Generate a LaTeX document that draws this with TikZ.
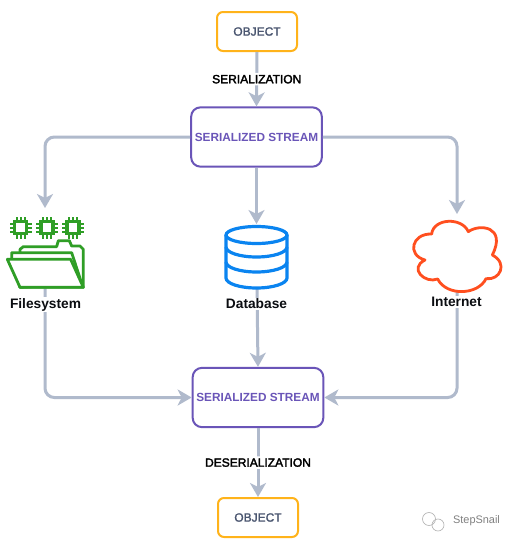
\documentclass[tikz,border=0pt]{standalone}
\usepackage{fontspec}
\setmainfont{Liberation Sans}
\newfontface\semil[FakeBold=2.5]{Liberation Sans}
\newfontface\semio[FakeBold=1.5]{Liberation Sans}
\usetikzlibrary{arrows.meta}
\definecolor{conn}{HTML}{B0BACC}
\definecolor{amberc}{HTML}{FFB31A}
\definecolor{purp}{HTML}{6A55B8}
\definecolor{slatec}{HTML}{4A5670}
\definecolor{greenc}{HTML}{2F9E26}
\definecolor{bluec}{HTML}{0A84F0}
\definecolor{redc}{HTML}{FF4F1F}
\tikzset{
  x=0.75pt,y=-0.75pt,
  objbox/.style={draw=amberc,line width=1.5pt,rounded corners=4.5pt,minimum width=60pt,minimum height=29.25pt,inner sep=0pt,text=slatec,font=\semio\fontsize{9}{11}\selectfont},
  streambox/.style={draw=purp,line width=1.5pt,rounded corners=7pt,minimum width=98pt,minimum height=44.5pt,inner sep=0pt,text=purp,font=\bfseries\fontsize{8.85}{11}\selectfont},
  conn/.style={draw=conn,line width=2.25pt,rounded corners=7pt,-{Stealth[length=10.5pt,width=12pt,inset=3pt]}},
  edgelabel/.style={fill=white,inner sep=1.5pt,text=black,font=\semil\fontsize{9}{11}\selectfont},
  iconlabel/.style={fill=white,inner sep=1pt,text=black!85!slatec,font=\bfseries\fontsize{10.3}{12}\selectfont},
  anchorbox/.style={inner sep=0pt,minimum size=0pt},
  chip/.style={draw=greenc,line width=2.4pt},
  folder/.style={draw=greenc,line width=2.1pt,line join=round,fill=white},
  db/.style={draw=bluec,line width=2.4pt},
  cloudline/.style={draw=redc,line width=2.1pt,line join=round}
}
\begin{document}
\begin{tikzpicture}
\useasboundingbox (0,0) rectangle (518,544);
\fill[white] (0,0) rectangle (518,544);
% nodes
\node[objbox] (obj1) at (257,31.5) {OBJECT};
\node[streambox] (st1) at (256.5,137) {SERIALIZED STREAM};
\node[streambox] (st2) at (258,397.5) {SERIALIZED STREAM};
\node[objbox] (obj2) at (258,517.5) {OBJECT};
\node[anchorbox] (fs) at (45,288) {};
\node[anchorbox] (dbn) at (257,288) {};
\node[anchorbox] (inet) at (457,290) {};
\coordinate (fstop) at (45,208);
\coordinate (dbtop) at (256.5,224);
\coordinate (inettop) at (457,214);
% connectors
\draw[conn] (obj1.south) -- (st1.north) node[midway,edgelabel] {SERIALIZATION};
\draw[conn] (st1.west) -| (fstop);
\draw[conn] (st1.south) -- (dbtop);
\draw[conn] (st1.east) -| (inettop);
\draw[conn] (fs) |- (st2.west);
\draw[conn] (dbn) -- (st2.north);
\draw[conn] (inet) |- (st2.east);
\draw[conn] (st2.south) -- (obj2.north) node[midway,edgelabel] {DESERIALIZATION};
% chips
\foreach \cx in {20.7,47,73}{
  \begin{scope}[shift={(\cx,227.5)}]
    \draw[chip] (-6,-6) rectangle (6,6);
    \draw[greenc,line width=1.5pt] (-4,-6) -- (-4,-11) (0,-6) -- (0,-11) (4,-6) -- (4,-11)
      (-4,6) -- (-4,11) (0,6) -- (0,11) (4,6) -- (4,11)
      (-6,-4) -- (-11,-4) (-6,0) -- (-11,0) (-6,4) -- (-11,4)
      (6,-4) -- (11,-4) (6,0) -- (11,0) (6,4) -- (11,4);
  \end{scope}
}
% folder
\begin{scope}[shift={(0,200)},x=0.25pt,y=-0.25pt]
  \draw[folder] (60,158) -- (60,148) -- (70,140) -- (170,140) -- (175,122) -- (208,122) -- (215,138) -- (240,138) -- (250,148) -- (250,262) -- (60,262) -- cycle;
  \draw[folder] (35,178) -- (35,158) -- (215,158) -- (245,250) -- (60,262) -- cycle;
  \draw[folder] (22,178) -- (212,178) -- (250,262) -- (60,262) -- cycle;
\end{scope}
% database
\fill[white] (226,235) -- (226,278) arc[start angle=180,end angle=0,x radius=30.5,y radius=10] -- (287,235) -- cycle;
\draw[db] (226,235) -- (226,278) arc[start angle=180,end angle=0,x radius=30.5,y radius=10] -- (287,235);
\draw[db] (256.5,235) ellipse[x radius=30.5,y radius=8.5];
\draw[db] (226,247) arc[start angle=180,end angle=0,x radius=30.5,y radius=10];
\draw[db] (226,262) arc[start angle=180,end angle=0,x radius=30.5,y radius=10];
% cloud
\begin{scope}[shift={(400,210)},x=0.25pt,y=-0.25pt]
  \draw[cloudline,fill=white] (95,72)
    .. controls (100,25) and (185,20) .. (205,65)
    .. controls (240,40) and (320,50) .. (277,135)
    .. controls (325,160) and (300,212) .. (258,206)
    .. controls (235,255) and (140,260) .. (113,207)
    .. controls (75,222) and (25,175) .. (75,150)
    .. controls (20,135) and (35,70) .. (95,72) -- cycle;
\end{scope}
% icon labels
\node[iconlabel] (fslabel) at (45.5,304.5) {Filesystem};
\node[iconlabel] (dblabel) at (256.5,304) {Database};
\node[iconlabel] (inetlabel) at (456.5,302) {Internet};
% watermark
\draw[black!30,line width=0.5pt] (429,519) circle[radius=6.5];
\draw[black!30,line width=0.5pt] (438,525) circle[radius=6];
\node[text=black!50,inner sep=0pt,font=\fontsize{8.2}{10}\selectfont] (wm) at (476.5,521) {StepSnail};
\end{tikzpicture}
\end{document}
